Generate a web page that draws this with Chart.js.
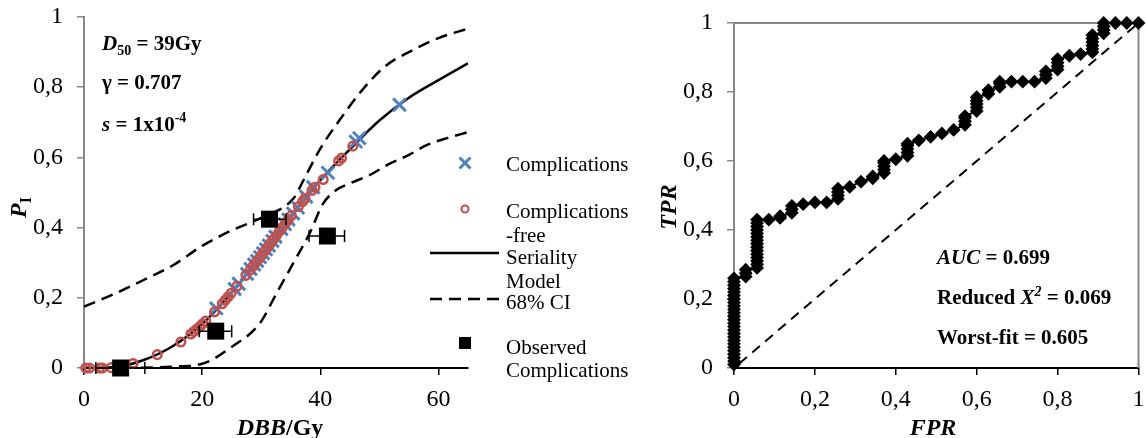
<!DOCTYPE html>
<html>
<head>
<meta charset="utf-8">
<script src="https://cdn.jsdelivr.net/npm/chart.js@4.4.0/dist/chart.umd.min.js"></script>
<style>
  body { margin: 0; background: #fff; }
  #wrap { position: relative; width: 1146px; height: 438px; }
  canvas { position: absolute; top: 0; }
  #ntcp { left: 0; }
  #roc { left: 655px; }
</style>
</head>
<body>
<div id="wrap">
  <canvas id="ntcp" width="655" height="438"></canvas>
  <canvas id="roc" width="491" height="438"></canvas>
</div>
<script>
// ---- NTCP vs dose ----
const doseTicks = [0, 20, 40, 60];
const probTicks = [0, 0.2, 0.4, 0.6, 0.8, 1];

// seriality model curve
const modelDose = [0, 5, 10, 15, 20, 25, 30, 35, 40, 45, 50, 55, 60, 65];
const modelP = [0, 0.002, 0.022, 0.062, 0.125, 0.215, 0.32, 0.432, 0.535, 0.623, 0.705, 0.77, 0.82, 0.868];

// 68% confidence band
const ciUpDose = [0, 5, 10, 15, 20, 25, 30, 35.5, 37, 40, 43, 47, 51, 55, 60, 65];
const ciUpP = [0.175, 0.21, 0.25, 0.292, 0.348, 0.392, 0.428, 0.484, 0.53, 0.625, 0.70, 0.79, 0.86, 0.90, 0.94, 0.967];
const ciLowDose = [0, 5, 10, 15, 20, 25, 29.75, 32.6, 35.4, 38.2, 40.5, 42.7, 45, 48.4, 51.5, 55, 58, 61.5, 65];
const ciLowP = [0, 0, 0.001, 0.004, 0.012, 0.06, 0.127, 0.213, 0.298, 0.384, 0.469, 0.507, 0.526, 0.55, 0.58, 0.607, 0.635, 0.655, 0.672];

// patients with complications
const compDose = [22.4, 25.5, 26.2, 27.6, 28.2, 28.8, 29.3, 29.8, 30.3, 30.8, 31.3, 31.9, 32.4, 33.4, 34.0, 34.6, 35.4, 36.2, 37.6, 38.8, 41.3, 46.0, 46.6, 53.4];
const compP = [0.17, 0.225, 0.24, 0.268, 0.282, 0.295, 0.305, 0.316, 0.327, 0.338, 0.349, 0.362, 0.374, 0.396, 0.41, 0.423, 0.44, 0.457, 0.488, 0.515, 0.556, 0.645, 0.655, 0.75];

// complication-free patients
const freeDose = [0.3, 0.9, 2.6, 3.1, 4.6, 8.3, 12.4, 16.4, 18.1, 18.6, 19.1, 19.6, 20.1, 20.6, 22.1, 23.4, 23.9, 24.4, 24.9, 25.9, 27.4, 28.1, 28.6, 29.1, 29.6, 30.1, 30.6, 31.1, 31.6, 32.1, 32.6, 33.1, 33.6, 34.1, 34.6, 35.1, 36.3, 37.0, 37.4, 38.6, 39.1, 40.5, 43.1, 43.6, 45.5];
const freeP = [0, 0, 0, 0, 0.001, 0.013, 0.038, 0.074, 0.097, 0.104, 0.111, 0.118, 0.126, 0.134, 0.16, 0.183, 0.193, 0.203, 0.213, 0.233, 0.264, 0.279, 0.29, 0.301, 0.311, 0.322, 0.333, 0.344, 0.356, 0.367, 0.378, 0.39, 0.401, 0.412, 0.423, 0.434, 0.46, 0.474, 0.483, 0.506, 0.515, 0.537, 0.59, 0.598, 0.632];

// observed complication rate per dose bin, with dose range
const obsDose = [6.2, 22.3, 31.4, 41.2];
const obsP = [0, 0.105, 0.424, 0.376];
const obsLow = [2.0, 19.5, 28.7, 38.1];
const obsHigh = [10.3, 25.0, 34.2, 44.1];

// ---- ROC ----
const rateTicks = [0, 0.2, 0.4, 0.6, 0.8, 1];
const rocFpr = [0, 0.029, 0.057, 0.086, 0.114, 0.143, 0.171, 0.2, 0.229, 0.257, 0.286, 0.314, 0.343, 0.371, 0.4, 0.429, 0.457, 0.486,
  0.514, 0.543, 0.571, 0.6, 0.629, 0.657, 0.686, 0.714, 0.743, 0.771, 0.8, 0.829, 0.857, 0.886, 0.914, 0.943, 0.971, 1];
const rocTpr = [
  [0.01, 0.02, 0.03, 0.04, 0.05, 0.06, 0.07, 0.08, 0.09, 0.10, 0.11, 0.12, 0.13, 0.14, 0.15, 0.16, 0.17, 0.18, 0.19, 0.20, 0.21, 0.22, 0.23, 0.24, 0.25, 0.26],
  [0.265, 0.275, 0.285],
  [0.29, 0.30, 0.31, 0.32, 0.33, 0.34, 0.35, 0.36, 0.37, 0.38, 0.39, 0.40, 0.41, 0.42, 0.43],
  [0.43], [0.435, 0.44], [0.45, 0.46, 0.47], [0.475], [0.48], [0.48],
  [0.49, 0.50, 0.51, 0.52], [0.525], [0.54], [0.55, 0.555],
  [0.565, 0.575, 0.585, 0.595, 0.60], [0.605],
  [0.615, 0.625, 0.635, 0.645, 0.65], [0.66], [0.67], [0.68], [0.69],
  [0.705, 0.715, 0.725, 0.73], [0.745, 0.755, 0.765, 0.775, 0.785], [0.795, 0.805],
  [0.815, 0.825, 0.83], [0.83], [0.83], [0.83], [0.84, 0.85, 0.86], [0.865, 0.875, 0.885, 0.895],
  [0.905], [0.91], [0.915, 0.925, 0.935, 0.945, 0.955, 0.965], [0.97, 0.98, 0.99, 1.0], [1], [1], [1]
];
const chanceLine = [0, 1];

const SERIF = '"Liberation Serif", "Times New Roman", serif';
const pts = (xs, ys) => xs.map((x, i) => ({ x: x, y: ys[i] }));
const commaFmt = v => String(+v.toFixed(1)).replace('.', ',');

// draws a row of differently styled text pieces, left to right
function drawRuns(ctx, x, y, runs) {
  runs.forEach(r => {
    ctx.font = r.font;
    ctx.fillText(r.t, x, y + (r.dy || 0));
    x += ctx.measureText(r.t).width;
  });
  return x;
}

function axisCommon(ticksArr, color, fit, pad) {
  return {
    type: 'linear',
    afterBuildTicks: s => { s.ticks = ticksArr.map(v => ({ value: v })); },
    afterFit: fit,
    grid: { drawOnChartArea: false, tickLength: 7, tickColor: color, lineWidth: 1.5 },
    border: { color: color, width: 2 },
    ticks: { font: { family: SERIF, size: 24 }, color: '#000', maxRotation: 0, padding: pad, callback: commaFmt }
  };
}

// fixed axis sizes, no extra room for overhanging labels
const fixHeight = h => s => { s.height = h; s.paddingLeft = 0; s.paddingRight = 0; };
const fixWidth = w => s => { s.width = w; s.paddingTop = 0; s.paddingBottom = 0; };

// error bars, legend and text for the dose-response chart
const ntcpDecor = {
  id: 'ntcpDecor',
  afterDatasetsDraw(chart) {
    const ctx = chart.ctx, xs = chart.scales.x, ys = chart.scales.y;
    ctx.save();
    ctx.strokeStyle = '#000';
    ctx.lineWidth = 1.5;
    obsDose.forEach((d, i) => {
      const y = ys.getPixelForValue(obsP[i]);
      const a = xs.getPixelForValue(obsLow[i]), b = xs.getPixelForValue(obsHigh[i]);
      ctx.beginPath();
      ctx.moveTo(a, y); ctx.lineTo(b, y);
      ctx.moveTo(a, y - 6); ctx.lineTo(a, y + 6);
      ctx.moveTo(b, y - 6); ctx.lineTo(b, y + 6);
      ctx.stroke();
    });
    ctx.restore();
  },
  afterDraw(chart) {
    const ctx = chart.ctx;
    ctx.save();
    ctx.fillStyle = '#000';
    ctx.textBaseline = 'alphabetic';
    const b = 'bold 21px ' + SERIF, bi = 'italic bold 21px ' + SERIF, sm = 'bold 14px ' + SERIF;
    drawRuns(ctx, 102, 50, [{ t: 'D', font: bi }, { t: '50', font: sm, dy: 5 }, { t: ' = 39Gy', font: b }]);
    drawRuns(ctx, 102, 89, [{ t: 'γ = 0.707', font: b }]);
    drawRuns(ctx, 102, 131, [{ t: 's', font: bi }, { t: ' = 1x10', font: b }, { t: '-4', font: sm, dy: -9 }]);

    // axis titles
    const t1 = 'DBB', t2 = '/Gy';
    ctx.font = 'italic bold 24px ' + SERIF;
    const w1 = ctx.measureText(t1).width;
    ctx.font = 'bold 24px ' + SERIF;
    const w2 = ctx.measureText(t2).width;
    drawRuns(ctx, 280 - (w1 + w2) / 2, 435, [{ t: t1, font: 'italic bold 24px ' + SERIF }, { t: t2, font: 'bold 24px ' + SERIF }]);

    ctx.save();
    ctx.translate(26, 218);
    ctx.rotate(-Math.PI / 2);
    drawRuns(ctx, 0, 0, [{ t: 'P', font: 'italic bold 24px ' + SERIF }, { t: 'I', font: 'bold 16px ' + SERIF, dy: 5 }]);
    ctx.restore();

    // legend
    const sx = 465;
    ctx.strokeStyle = '#4F81BD';
    ctx.lineWidth = 3;
    ctx.beginPath();
    ctx.moveTo(sx - 5.5, 163 - 5.5); ctx.lineTo(sx + 5.5, 163 + 5.5);
    ctx.moveTo(sx + 5.5, 163 - 5.5); ctx.lineTo(sx - 5.5, 163 + 5.5);
    ctx.stroke();
    ctx.strokeStyle = '#C0504D';
    ctx.lineWidth = 2;
    ctx.beginPath();
    ctx.arc(sx, 209, 3.5, 0, Math.PI * 2);
    ctx.stroke();
    ctx.strokeStyle = '#000';
    ctx.lineWidth = 2.5;
    ctx.beginPath();
    ctx.moveTo(430, 253); ctx.lineTo(499, 253);
    ctx.stroke();
    ctx.setLineDash([12, 7]);
    ctx.beginPath();
    ctx.moveTo(430, 299); ctx.lineTo(499, 299);
    ctx.stroke();
    ctx.setLineDash([]);
    ctx.fillRect(sx - 6, 343 - 6, 12, 12);

    ctx.font = '21px ' + SERIF;
    ctx.textBaseline = 'middle';
    [['Complications', 165], ['Complications', 212], ['-free', 236], ['Seriality', 258],
     ['Model', 282], ['68% CI', 303], ['Observed', 348], ['Complications', 371]].forEach(l => {
      ctx.fillText(l[0], 506, l[1]);
    });
    ctx.restore();
  }
};

new Chart(document.getElementById('ntcp'), {
  type: 'scatter',
  data: {
    datasets: [
      { label: 'Observed Complications', data: pts(obsDose, obsP), pointStyle: 'rect', pointRadius: 12,
        backgroundColor: '#000', borderColor: '#000', borderWidth: 0, clip: false },
      { label: 'Complications-free', data: pts(freeDose, freeP), pointStyle: 'circle', pointRadius: 4.3,
        borderWidth: 2.5, borderColor: '#C0504D', backgroundColor: 'rgba(255,255,255,0)', clip: false },
      { label: 'Complications', data: pts(compDose, compP), pointStyle: 'crossRot', pointRadius: 9,
        borderWidth: 3, borderColor: '#4F81BD', clip: false },
      { label: 'Seriality Model', data: pts(modelDose, modelP), showLine: true, pointRadius: 0,
        borderColor: '#000', borderWidth: 2.5, cubicInterpolationMode: 'monotone' },
      { label: '68% CI', data: pts(ciUpDose, ciUpP), showLine: true, pointRadius: 0, borderDash: [12, 7],
        borderColor: '#000', borderWidth: 2.5, cubicInterpolationMode: 'monotone' },
      { label: '68% CI low', data: pts(ciLowDose, ciLowP), showLine: true, pointRadius: 0, borderDash: [12, 7],
        borderColor: '#000', borderWidth: 2.5, cubicInterpolationMode: 'monotone' }
    ]
  },
  options: {
    responsive: false,
    animation: false,
    devicePixelRatio: 1,
    layout: { padding: { top: 17, right: 187, left: 0, bottom: 0 } },
    plugins: { legend: { display: false }, tooltip: { enabled: false } },
    scales: {
      x: Object.assign(axisCommon(doseTicks, '#000', fixHeight(70), 10), { min: 0, max: 65 }),
      y: Object.assign(axisCommon(probTicks, '#888', fixWidth(84), 14), { min: 0, max: 1 })
    }
  },
  plugins: [ntcpDecor]
});
</script>
<script>
// frame and statistics text for the ROC chart
const rocDecor = {
  id: 'rocDecor',
  beforeDatasetsDraw(chart) {
    const ctx = chart.ctx, a = chart.chartArea;
    ctx.save();
    ctx.strokeStyle = '#888';
    ctx.lineWidth = 2;
    ctx.beginPath();
    ctx.moveTo(a.left, a.top); ctx.lineTo(a.right, a.top); ctx.lineTo(a.right, a.bottom);
    ctx.stroke();
    ctx.restore();
  },
  afterDraw(chart) {
    const ctx = chart.ctx;
    ctx.save();
    ctx.fillStyle = '#000';
    const b = 'bold 21px ' + SERIF, bi = 'italic bold 21px ' + SERIF;
    drawRuns(ctx, 282, 264, [{ t: 'AUC', font: bi }, { t: ' = 0.699', font: b }]);
    drawRuns(ctx, 282, 304, [{ t: 'Reduced ', font: b }, { t: 'X', font: bi }, { t: '2', font: 'italic bold 14px ' + SERIF, dy: -8 }, { t: ' = 0.069', font: b }]);
    drawRuns(ctx, 282, 344, [{ t: 'Worst-fit = 0.605', font: b }]);

    ctx.font = 'italic bold 24px ' + SERIF;
    ctx.textAlign = 'center';
    ctx.fillText('FPR', 278, 435);
    ctx.save();
    ctx.translate(21, 207);
    ctx.rotate(-Math.PI / 2);
    ctx.fillText('TPR', 0, 0);
    ctx.restore();
    ctx.restore();
  }
};

const rocPoints = [];
rocFpr.forEach((f, i) => rocTpr[i].forEach(t => rocPoints.push({ x: f, y: t })));

new Chart(document.getElementById('roc'), {
  type: 'scatter',
  data: {
    datasets: [
      { label: 'ROC', data: rocPoints, showLine: true, borderColor: '#000', borderWidth: 2,
        pointStyle: 'rectRot', pointRadius: 5.5, backgroundColor: '#000', clip: false },
      { label: 'Chance', data: pts(chanceLine, chanceLine), showLine: true, pointRadius: 0,
        borderColor: '#000', borderWidth: 2, borderDash: [10, 7], borderDashOffset: 10 }
    ]
  },
  options: {
    responsive: false,
    animation: false,
    devicePixelRatio: 1,
    layout: { padding: { top: 23, right: 6, left: 0, bottom: 0 } },
    plugins: { legend: { display: false }, tooltip: { enabled: false } },
    scales: {
      x: Object.assign(axisCommon(rateTicks, '#000', fixHeight(70), 10), { min: 0, max: 1 }),
      y: Object.assign(axisCommon(rateTicks, '#888', fixWidth(79), 14), { min: 0, max: 1 })
    }
  },
  plugins: [rocDecor]
});
</script>
</body>
</html>
